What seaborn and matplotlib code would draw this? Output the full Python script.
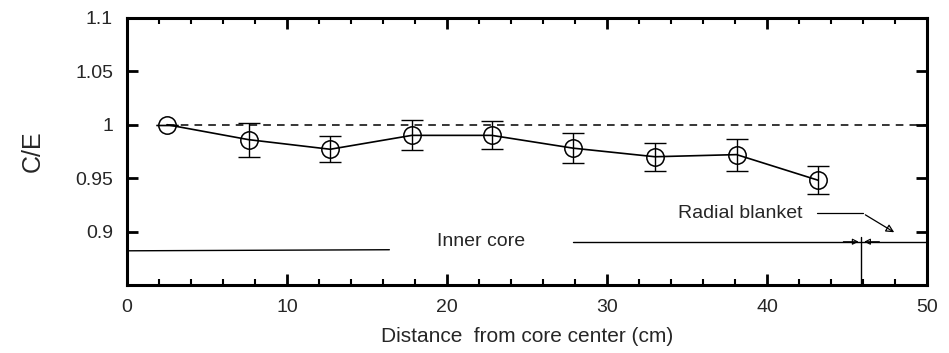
import matplotlib
matplotlib.use("Agg")
import matplotlib.pyplot as plt
import seaborn as sns
import numpy as np
import pandas as pd
from matplotlib.ticker import MultipleLocator

# ---- data ----
distance = [2.5, 7.6, 12.7, 17.8, 22.8, 27.9, 33.0, 38.1, 43.2]
ce_ratio = [1.000, 0.986, 0.977, 0.990, 0.990, 0.978, 0.970, 0.972, 0.948]
ce_err = [0.0, 0.016, 0.012, 0.014, 0.013, 0.014, 0.013, 0.015, 0.013]
xticks = [0, 10, 20, 30, 40, 50]
yticks = [0.9, 0.95, 1.0, 1.05, 1.1]
ytick_labels = ["0.9", "0.95", "1", "1.05", "1.1"]
boundary = 45.9

df = pd.DataFrame({"x": distance, "y": ce_ratio, "e": ce_err})

sns.set_theme(style="ticks")
plt.rcParams["font.family"] = ["Liberation Sans", "DejaVu Sans"]

fig = plt.figure(figsize=(9.49, 3.53), dpi=100)
ax = fig.add_axes([0.1338, 0.1926, 0.843, 0.757])

# reference line C/E = 1
ax.plot([distance[0], 50], [1.0, 1.0], ls=(0, (5, 4)), color="black", lw=1.1)

# error bars
ax.errorbar(df["x"], df["y"], yerr=df["e"], fmt="none", ecolor="black",
            elinewidth=1.0, capsize=8, capthick=1.0)

sns.lineplot(data=df, x="x", y="y", ax=ax, color="black", lw=1.2,
             marker="o", markersize=12.5, markerfacecolor="none",
             markeredgecolor="black", markeredgewidth=1.1)

# region annotations
ax.plot([0, 16.4], [0.882, 0.883], color="black", lw=1.0)
ax.plot([27.9, boundary], [0.8905, 0.8905], color="black", lw=1.0)
ax.plot([boundary, 50], [0.8905, 0.8905], color="black", lw=1.0)
ax.plot([boundary, boundary], [0.895, 0.85], color="black", lw=1.0)
ax.annotate("", xy=(boundary, 0.8905), xytext=(44.6, 0.8905),
            arrowprops=dict(arrowstyle="-|>", color="black", lw=0.8,
                            mutation_scale=9, fill=False))
ax.annotate("", xy=(boundary, 0.8905), xytext=(47.2, 0.8905),
            arrowprops=dict(arrowstyle="-|>", color="black", lw=0.8,
                            mutation_scale=9, fill=False))
ax.text(22.1, 0.8905, "Inner core", ha="center", va="center", fontsize=14)
ax.text(38.3, 0.917, "Radial blanket", ha="center", va="center", fontsize=14)
ax.plot([43.1, 46.0], [0.917, 0.917], color="black", lw=0.9)
ax.annotate("", xy=(48.1, 0.898), xytext=(46.0, 0.917),
            arrowprops=dict(arrowstyle="-|>", color="black", lw=0.9,
                            mutation_scale=12, fill=False))

ax.set_xlim(0, 50)
ax.set_ylim(0.85, 1.1)
ax.set_xticks(xticks)
ax.set_xticklabels([str(t) for t in xticks])
ax.xaxis.set_minor_locator(MultipleLocator(2))
ax.set_yticks(yticks)
ax.set_yticklabels(ytick_labels)

ax.tick_params(which="both", direction="in", top=True, right=True,
               labelsize=14, color="black", pad=10)
ax.tick_params(which="major", length=8, width=2)
ax.tick_params(which="minor", length=4, width=1.5)
for s in ax.spines.values():
    s.set_linewidth(2.2)
    s.set_color("black")

ax.set_xlabel("Distance  from core center (cm)", fontsize=15, labelpad=8)
ax.set_ylabel("C/E", fontsize=18, labelpad=22)

fig.savefig("out.png", dpi=100)
